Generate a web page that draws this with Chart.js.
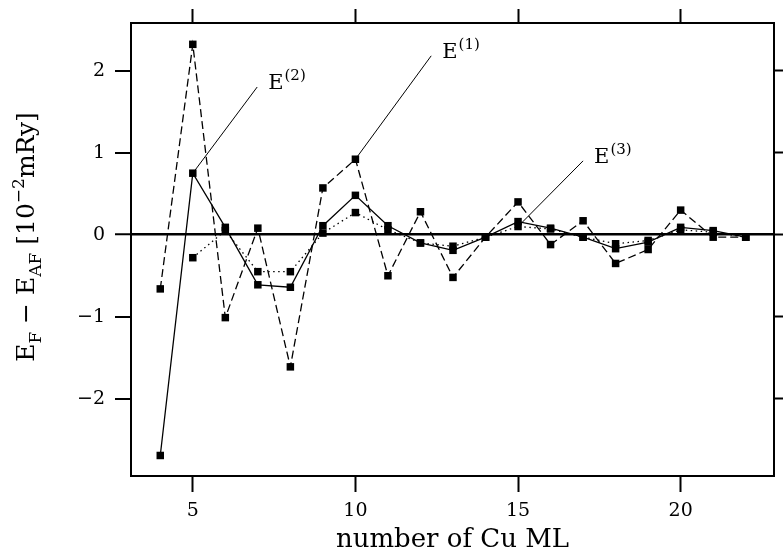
<!DOCTYPE html>
<html>
<head>
<meta charset="utf-8">
<script src="https://cdn.jsdelivr.net/npm/chart.js@4.4.1/dist/chart.umd.min.js"></script>
<style>
  html, body { margin: 0; padding: 0; background: #fff; }
</style>
</head>
<body>
<canvas id="chart" width="783" height="558"></canvas>
<script>
// number of Cu monolayers
var layers = [4, 5, 6, 7, 8, 9, 10, 11, 12, 13, 14, 15, 16, 17, 18, 19, 20, 21, 22];
// E(1): dashed
var e1 = [-0.66, 2.32, -1.01, 0.08, -1.61, 0.57, 0.92, -0.50, 0.28, -0.52, -0.03, 0.40, -0.12, 0.17, -0.35, -0.18, 0.30, -0.03, -0.03];
// E(2): solid
var e2 = [-2.69, 0.75, 0.09, -0.61, -0.64, 0.11, 0.48, 0.11, -0.10, -0.19, -0.03, 0.16, 0.08, -0.03, -0.17, -0.09, 0.09, 0.05, -0.03];
// E(3): dotted, no value for 4 ML
var e3 = [null, -0.28, 0.05, -0.45, -0.45, 0.02, 0.27, 0.06, -0.10, -0.14, -0.03, 0.10, 0.07, -0.03, -0.11, -0.07, 0.06, 0.03, -0.03];

var xTicks = [5, 10, 15, 20];
var yTicks = [-2, -1, 0, 1, 2];

// labels with leader lines: which series, the layer it points at, and the tip of the leader
var labelNames = ["(1)", "(2)", "(3)"];
var labelLayer = [10, 5, 15];
var labelTipX = [12.33, 6.98, 17.0];
var labelTipY = [2.18, 1.80, 0.90];

var xTitle = "number of Cu ML";
var yTitle = [
  { t: "E" }, { t: "F", sub: true }, { t: " \u2212 " }, { t: "E" }, { t: "AF", sub: true },
  { t: " [10" }, { t: "\u22122", sup: true }, { t: "mRy]" }
];

var serif = '"DejaVu Serif"';
var seriesVals = [e1, e2, e3];

function toPoints(vals) {
  return layers.map(function(x, i) { return { x: x, y: vals[i] }; })
    .filter(function(p) { return p.y !== null; });
}

function leader(k) {
  var i = layers.indexOf(labelLayer[k]);
  return [{ x: labelLayer[k], y: seriesVals[k][i] }, { x: labelTipX[k], y: labelTipY[k] }];
}

function minus(v) {
  return v < 0 ? "\u2212" + Math.abs(v) : String(v);
}

/** draw text with sub/superscripts, baseline at (x, y), centered */
function richText(ctx, parts, size, x, y) {
  var small = Math.round(size * 0.66);
  var total = 0;
  parts.forEach(function(p) {
    ctx.font = (p.sub || p.sup ? small : size) + "px " + serif;
    p.w = ctx.measureText(p.t).width;
    total += p.w;
  });
  var cx = x - total / 2;
  parts.forEach(function(p) {
    ctx.font = (p.sub || p.sup ? small : size) + "px " + serif;
    var dy = p.sub ? size * 0.28 : (p.sup ? -size * 0.42 : 0);
    ctx.fillText(p.t, cx, y + dy);
    cx += p.w;
  });
}

var textPlugin = {
  id: "texts",
  afterDraw: function(chart) {
    var ctx = chart.ctx, area = chart.chartArea;
    var xs = chart.scales.x, ys = chart.scales.y;
    ctx.save();
    ctx.fillStyle = "#000";
    ctx.textAlign = "left";
    ctx.textBaseline = "alphabetic";

    // x axis title
    ctx.font = "26px " + serif;
    ctx.textAlign = "center";
    ctx.fillText(xTitle, (area.left + area.right) / 2, 547);
    ctx.textAlign = "left";

    // y axis title, rotated
    ctx.save();
    ctx.translate(34, 237);
    ctx.rotate(-Math.PI / 2);
    richText(ctx, yTitle, 25, 0, 0);
    ctx.restore();

    // curve labels E^(n)
    for (var k = 0; k < labelNames.length; k++) {
      var px = xs.getPixelForValue(labelTipX[k]);
      var py = ys.getPixelForValue(labelTipY[k]);
      ctx.font = "21px " + serif;
      ctx.fillText("E", px + 11, py + 2);
      var w = ctx.measureText("E").width;
      ctx.font = "15px " + serif;
      ctx.fillText(labelNames[k], px + 12 + w, py - 7);
    }
    ctx.restore();
  }
};

var datasets = [
  { data: toPoints(e1), borderDash: [8, 4] },
  { data: toPoints(e2), borderDash: [] },
  { data: toPoints(e3), borderDash: [1.5, 3.5] }
].map(function(d) {
  return Object.assign({
    borderColor: "#000", borderWidth: 1.3, backgroundColor: "#000",
    pointStyle: "rect", pointRadius: 5.3, pointBorderWidth: 0,
    pointBackgroundColor: "#000", tension: 0, fill: false
  }, d);
});

labelNames.forEach(function(n, k) {
  datasets.push({
    data: leader(k), borderColor: "#000", borderWidth: 1,
    pointRadius: 0, fill: false, tension: 0
  });
});

function fixTicks(list) {
  return function(s) { s.ticks = list.map(function(v) { return { value: v }; }); };
}

var tickGrid = function(len) {
  return { drawOnChartArea: false, drawTicks: true, tickLength: len, tickWidth: 2, tickColor: "#000" };
};
var frame = { display: true, color: "#000", width: 2 };

new Chart(document.getElementById("chart"), {
  type: "line",
  data: { datasets: datasets },
  plugins: [textPlugin],
  options: {
    responsive: false,
    devicePixelRatio: 1,
    animation: false,
    layout: { padding: 0 },
    plugins: { legend: { display: false }, tooltip: { enabled: false } },
    scales: {
      x: {
        type: "linear", position: "bottom", min: 3.1, max: 22.87,
        afterBuildTicks: fixTicks(xTicks),
        afterFit: function(s) { s.height = 82; },
        border: frame,
        grid: tickGrid(16),
        ticks: { color: "#000", font: { family: serif, size: 19 }, padding: 8, maxRotation: 0, autoSkip: false }
      },
      x2: {
        type: "linear", position: "top", min: 3.1, max: 22.87,
        afterBuildTicks: fixTicks(xTicks),
        afterFit: function(s) { s.height = 23; },
        border: frame,
        grid: tickGrid(14),
        ticks: { display: false }
      },
      y: {
        type: "linear", position: "left", min: -2.94, max: 2.58,
        afterBuildTicks: fixTicks(yTicks),
        afterFit: function(s) { s.width = 131; },
        border: frame,
        grid: {
          drawOnChartArea: true, drawTicks: true, tickLength: 16, tickWidth: 2, tickColor: "#000",
          color: function(c) { return c.tick && c.tick.value === 0 ? "#000" : "rgba(0,0,0,0)"; },
          lineWidth: function(c) { return c.tick && c.tick.value === 0 ? 2.5 : 0; }
        },
        ticks: { color: "#000", font: { family: serif, size: 19 }, padding: 10, callback: minus }
      },
      y2: {
        type: "linear", position: "right", min: -2.94, max: 2.58,
        afterBuildTicks: fixTicks(yTicks),
        afterFit: function(s) { s.width = 9; },
        border: frame,
        grid: tickGrid(9),
        ticks: { display: false }
      }
    }
  }
});
</script>
</body>
</html>
